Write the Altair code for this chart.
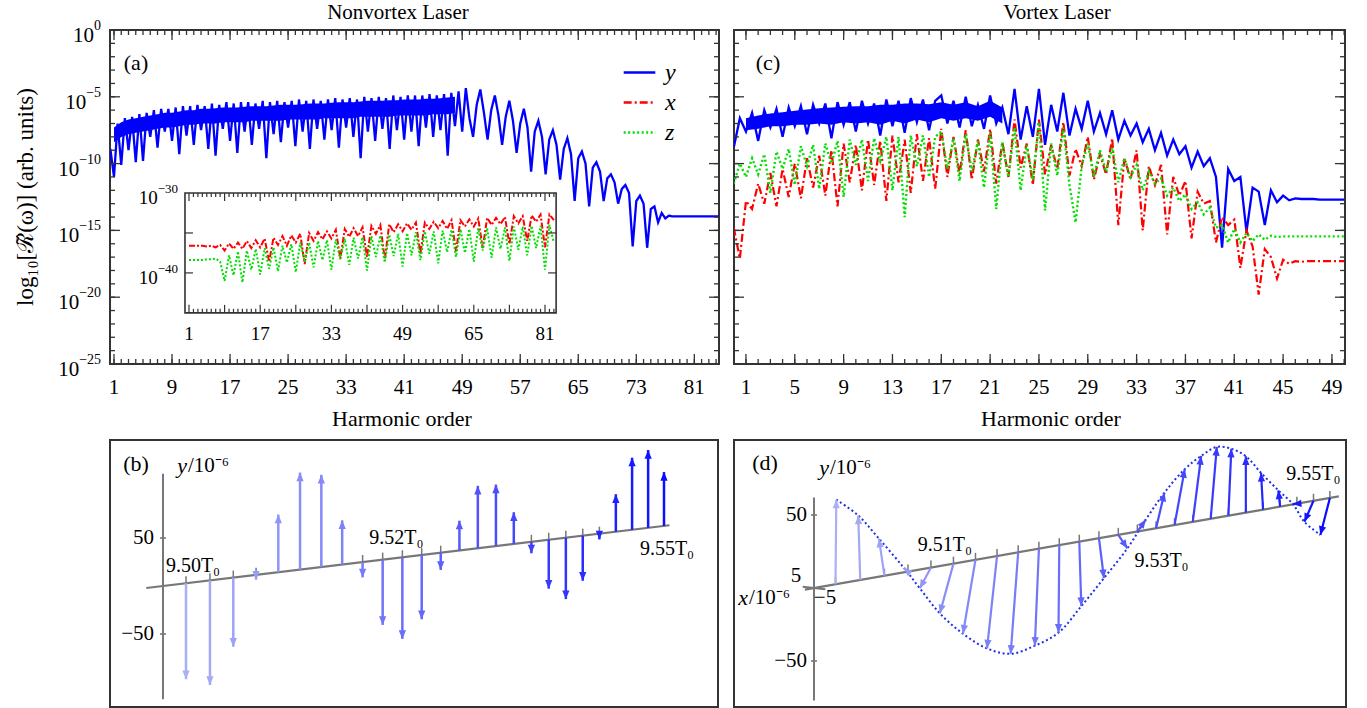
import math
import altair as alt
import numpy as np
import pandas as pd

FONT = "Liberation Serif"
BLUE, RED, GREEN = "#0000ff", "#ff0000", "#00e000"
FRAME = "#333333"
AXGRAY = "#777777"

# ---------------- data: panel (a), nonvortex laser (log10 of spectrum) ----------------
a_h = np.arange(0.5, 84.51, 0.5)
a_y = [-8.9, -11.0, -7.0, -10.1, -6.6, -9.0, -6.5, -9.9, -6.3, -9.8,
       -6.2, -8.0, -6.0, -8.8, -5.9, -7.6, -5.9, -8.3, -5.8, -9.3,
       -5.7, -7.9, -5.7, -8.6, -5.6, -7.5, -5.7, -8.9, -5.5, -9.4,
       -5.6, -7.4, -5.4, -8.3, -5.5, -9.2, -5.4, -7.6, -5.4, -8.6,
       -5.5, -7.4, -5.3, -9.6, -5.4, -7.8, -5.3, -8.4, -5.4, -7.3,
       -5.3, -8.7, -5.2, -7.6, -5.3, -8.9, -5.2, -7.4, -5.3, -8.2,
       -5.2, -7.5, -5.1, -8.8, -5.2, -7.3, -5.1, -8.0, -5.2, -9.6,
       -5.0, -7.6, -5.1, -8.3, -5.0, -7.4, -5.1, -8.9, -4.9, -7.5,
       -5.0, -8.2, -4.9, -7.6, -4.9, -8.7, -4.9, -7.3, -4.8, -8.0,
       -4.9, -7.5, -4.8, -9.4, -4.7, -7.2, -4.6, -7.6, -4.35, -6.6,
       -8.0, -5.6, -4.45, -6.2, -8.2, -6.0, -4.9, -6.4, -8.6, -6.5,
       -5.3, -6.8, -9.2, -7.0, -5.9, -7.3, -10.6, -7.6, -6.8, -8.0,
       -10.8, -8.2, -7.5, -8.6, -11.2, -8.9, -8.1, -9.3, -12.8, -9.6,
       -9.1, -10.0, -13.2, -10.3, -9.9, -10.6, -12.8, -11.1, -10.8, -11.4,
       -13.0, -11.9, -11.6, -12.2, -16.2, -12.8, -12.4, -13.0, -16.3, -13.4,
       -13.2, -14.4, -13.7, -14.1, -13.9, -13.95, -13.95, -13.95, -13.95, -13.95,
       -13.95, -13.95, -13.95, -13.95, -13.95, -13.95, -13.95, -13.95, -13.95]
# dense (over-plotted) band of the y spectrum, upper / lower edge per harmonic
a_band_h = np.arange(1, 49)
a_band_top = [-7.3, -6.9, -6.7, -6.6, -6.5, -6.4, -6.3, -6.2, -6.2, -6.1,
              -6.0, -6.0, -5.9, -5.9, -5.85, -5.8, -5.8, -5.8, -5.75, -5.7,
              -5.7, -5.7, -5.65, -5.6, -5.6, -5.6, -5.55, -5.5, -5.5, -5.5,
              -5.45, -5.4, -5.4, -5.4, -5.35, -5.3, -5.3, -5.3, -5.25, -5.25,
              -5.2, -5.2, -5.2, -5.15, -5.15, -5.1, -5.05, -5.0]
a_band_bot = [-8.4, -8.0, -7.8, -7.7, -7.6, -7.5, -7.4, -7.3, -7.3, -7.2,
              -7.1, -7.1, -7.0, -7.0, -7.0, -6.9, -6.9, -6.9, -6.9, -6.8,
              -6.8, -6.8, -6.8, -6.8, -6.7, -6.7, -6.7, -6.7, -6.7, -6.6,
              -6.6, -6.6, -6.6, -6.6, -6.5, -6.5, -6.5, -6.5, -6.5, -6.4,
              -6.4, -6.4, -6.4, -6.4, -6.3, -6.3, -6.3, -6.2]

# inset of (a): x and z components
inset_h = np.arange(1, 84)
inset_x = [-36.6, -36.6, -36.6, -36.6, -36.7, -36.6, -36.8, -36.5, -37.2, -36.3,
           -37.0, -36.2, -37.0, -36.0, -36.9, -35.9, -36.8, -35.7, -38.6, -35.6,
           -36.5, -35.4, -36.6, -35.3, -36.2, -35.1, -38.9, -35.0, -36.0, -34.9,
           -35.8, -34.8, -35.7, -34.6, -38.2, -34.5, -35.5, -34.4, -35.4, -34.3,
           -38.0, -34.1, -35.1, -34.0, -38.3, -33.9, -34.9, -33.9, -34.8, -33.8,
           -34.6, -33.7, -37.6, -33.7, -34.5, -33.6, -34.4, -33.5, -34.5, -33.4,
           -37.3, -33.4, -34.2, -33.3, -34.2, -33.2, -36.9, -33.1, -34.0, -33.1,
           -33.9, -33.0, -36.4, -32.9, -33.8, -32.9, -36.0, -32.8, -33.6, -32.7,
           -36.8, -32.7, -33.4]
inset_z = [-38.4, -38.4, -38.4, -38.4, -38.3, -38.3, -38.2, -38.6, -41.0, -37.8,
           -40.3, -37.3, -41.2, -37.2, -39.6, -37.0, -40.2, -36.9, -39.5, -36.8,
           -39.8, -36.6, -38.7, -36.4, -39.9, -36.2, -38.6, -36.2, -39.3, -36.0,
           -38.4, -35.9, -39.6, -35.8, -38.3, -35.7, -39.0, -35.6, -38.2, -35.5,
           -39.7, -35.4, -38.0, -35.3, -38.7, -35.2, -37.9, -35.1, -39.2, -35.0,
           -37.8, -34.9, -38.4, -34.8, -37.6, -34.8, -38.8, -34.7, -37.4, -34.6,
           -38.0, -34.5, -37.5, -34.5, -38.6, -34.4, -37.2, -34.4, -38.1, -34.3,
           -37.0, -34.3, -38.5, -34.2, -37.1, -34.2, -37.8, -34.1, -36.9, -34.1,
           -39.6, -34.0, -36.2]

# ---------------- data: panel (c), vortex laser ----------------
c_h = np.arange(0.0, 50.01, 0.5)
c_y = [-8.8, -6.6, -7.6, -6.2, -8.3, -6.0, -7.3, -5.9, -8.0, -5.8,
       -7.2, -5.7, -7.8, -5.6, -7.0, -5.5, -8.1, -5.4, -7.1, -5.4,
       -7.6, -5.3, -7.0, -5.5, -7.9, -5.2, -7.2, -5.3, -7.7, -5.1,
       -6.9, -5.2, -7.5, -5.3, -4.9, -7.0, -5.3, -7.3, -5.0, -7.2,
       -5.6, -7.4, -4.9, -7.0, -5.8, -7.8, -4.4, -8.2, -5.7, -8.0,
       -4.4, -8.6, -5.6, -7.6, -4.7, -7.9, -5.9, -7.4, -5.3, -7.6,
       -6.2, -7.8, -6.0, -8.2, -6.8, -7.9, -7.0, -8.4, -7.4, -9.0,
       -7.7, -9.4, -8.2, -9.3, -8.7, -10.3, -9.1, -10.2, -9.6, -11.0,
       -16.3, -10.4, -11.3, -11.0, -15.1, -11.8, -12.1, -14.6, -12.0, -12.9,
       -12.4, -12.75, -12.6, -12.65, -12.65, -12.65, -12.7, -12.7, -12.7, -12.7,
       -12.7]
c_band_h = np.arange(1, 23)
c_band_top = [-6.6, -6.4, -6.25, -6.15, -6.05, -5.95, -5.85, -5.8, -5.75, -5.7,
              -5.7, -5.6, -5.6, -5.5, -5.5, -5.55, -5.4, -5.6, -5.4, -5.7,
              -5.3, -5.8]
c_band_bot = [-7.5, -7.4, -7.2, -7.2, -7.1, -7.1, -7.0, -7.1, -6.9, -7.0,
              -6.9, -7.1, -6.8, -7.0, -6.7, -6.9, -6.6, -6.8, -6.6, -6.8,
              -6.5, -7.0]
c_x = [-14.8, -17.1, -12.8, -13.4, -11.5, -13.0, -10.7, -13.2, -10.4, -12.5,
       -10.0, -12.6, -9.6, -11.8, -9.4, -12.4, -9.0, -13.2, -8.5, -11.4,
       -8.6, -12.0, -8.2, -11.6, -8.3, -12.8, -7.9, -11.4, -8.2, -12.2,
       -7.8, -11.3, -8.1, -11.9, -7.4, -11.0, -8.0, -10.8, -7.5, -11.2,
       -8.2, -10.6, -7.4, -11.5, -8.4, -11.0, -6.7, -10.3, -8.5, -11.6,
       -6.7, -10.8, -8.6, -10.4, -6.9, -10.9, -8.9, -10.2, -8.0, -11.2,
       -9.3, -10.8, -8.1, -14.6, -9.6, -11.2, -9.0, -15.0, -10.2, -11.6,
       -10.1, -15.3, -11.0, -12.4, -11.3, -15.6, -12.1, -13.0, -12.8, -15.9,
       -14.0, -14.6, -14.2, -17.8, -15.0, -16.2, -19.8, -16.4, -17.0, -18.6,
       -17.2, -17.5, -17.3, -17.35, -17.3, -17.3, -17.3, -17.3, -17.3, -17.3,
       -17.3]
c_z = [-11.5, -10.0, -11.0, -9.6, -10.8, -9.3, -12.2, -9.1, -10.4, -8.9,
       -11.6, -8.7, -10.2, -8.6, -11.9, -8.5, -10.0, -8.3, -12.5, -8.2,
       -10.1, -8.2, -11.3, -8.1, -9.8, -8.0, -12.0, -8.0, -14.0, -7.9,
       -10.2, -7.9, -11.0, -8.0, -7.6, -10.4, -8.1, -11.3, -7.8, -10.6,
       -8.3, -11.8, -7.7, -13.4, -8.4, -11.0, -7.3, -12.0, -8.6, -11.2,
       -6.9, -13.5, -8.5, -10.9, -7.3, -11.6, -14.4, -10.2, -8.5, -11.0,
       -9.0, -10.6, -8.8, -11.4, -9.6, -11.0, -10.1, -12.0, -10.6, -11.5,
       -11.1, -12.4, -11.8, -12.8, -12.3, -13.4, -12.9, -13.8, -13.3, -14.8,
       -14.6, -15.9, -14.9, -15.9, -15.2, -15.8, -15.3, -15.7, -15.4, -15.5,
       -15.45, -15.45, -15.45, -15.45, -15.45, -15.45, -15.45, -15.45, -15.45, -15.45,
       -15.45]

series_names = ["y", "x", "z"]
a_xtick_labels = [1, 9, 17, 25, 33, 41, 49, 57, 65, 73, 81]
c_xtick_labels = [1, 5, 9, 13, 17, 21, 25, 29, 33, 37, 41, 45, 49]
log_ticks = [0, -5, -10, -15, -20, -25]
inset_xtick_labels = [1, 17, 33, 49, 65, 81]
inset_xtick_major = [1, 9, 17, 25, 33, 41, 49, 57, 65, 73, 81]
inset_ytick_labels = [-30, -40]
inset_ytick_major = [-35, -40]

# ---------------- data: panels (b) and (d), field vectors vs time (units of 1e-6) ----------------
b_t = [9.500, 9.502, 9.504, 9.506, 9.508, 9.510, 9.512, 9.514, 9.516, 9.518, 9.520, 9.522, 9.524,
       9.526, 9.528, 9.530, 9.532, 9.534, 9.536, 9.538, 9.540, 9.542, 9.544, 9.546, 9.548, 9.550]
b_y = [-100, -109, -72, -5, 60, 101, 96, 46, -16, -68, -85, -67, -18,
       31, 65, 64, 33, -12, -51, -64, -47, -6, 39, 75, 81, 56]
d_t = [9.500, 9.502, 9.504, 9.506, 9.508, 9.510, 9.512, 9.514, 9.516, 9.518, 9.520, 9.522, 9.524,
       9.526, 9.528, 9.530, 9.532, 9.534, 9.536, 9.538, 9.540, 9.542, 9.544, 9.546, 9.548, 9.550]
d_y = [58, 44, 25, 2.3, -15, -35, -51.5, -64, -70, -66.7, -60, -44, -27,
       -8.6, 8.7, 25, 39, 45.7, 49.6, 46, 38.6, 25, 11, -0.5, -15, -26]
d_x = [-0.35, 0.9, 2.4, 1.8, 4.9, 6.0, 5.5, 4.4, 3.3, 1.8, 0.35, -0.9, -2.2,
       -4.0, -3.7, -3.7, -4.5, -3.7, -2.7, -1.3, 0.0, 0.9, 0.75, 1.8, 4.0, 4.2]
b_time_labels = [9.50, 9.52, 9.55]
d_time_labels = [9.51, 9.53, 9.55]

# ---------------- sizes ----------------
WA, HA = 609, 334
WC, HC = 611, 334
WB, HB = 608, 267
WD, HD = 612, 267


def txt_layer(df, enc, **mk):
    base = dict(font=FONT, color="black", baseline="middle", align="center")
    base.update(mk)
    return alt.Chart(df).mark_text(**base).encode(**enc)


def pow10_labels(vals, ysc, right_px, f10, fsup, dy10, dysup):
    """'10' + raised exponent, right aligned at right_px (pixels in the view)."""
    sups = [str(int(v)).replace("-", "−") for v in vals]
    widths = [fsup * (0.5 * sum(c.isdigit() for c in s) + 0.56 * s.count("−")) for s in sups]
    df = pd.DataFrame({"v": vals, "sup": sups, "ten": "10",
                       "px": [right_px - w for w in widths]})
    y = alt.Y("v:Q", scale=ysc, axis=None)
    ten = txt_layer(df, dict(x=alt.X("px:Q", scale=None), y=y, text="ten:N"), align="right", fontSize=f10, dy=dy10)
    sup = txt_layer(df, dict(x=alt.X("px:Q", scale=None), y=y, text="sup:N"), align="left", fontSize=fsup, dy=dysup)
    return [ten, sup]


def frame_ticks(x_minor, x_major, y_minor, y_major, xsc, ysc, W, H, minor=5, major=10):
    layers = []
    for vals, L in ((x_minor, minor), (x_major, major)):
        base = alt.Chart(pd.DataFrame({"h": vals})).mark_rule(color=FRAME, strokeWidth=1.3)
        xe = alt.X("h:Q", scale=xsc, axis=None)
        layers.append(base.encode(x=xe, y=alt.value(H), y2=alt.value(H - L)))
        layers.append(base.encode(x=xe, y=alt.value(0), y2=alt.value(L)))
    for vals, L in ((y_minor, minor), (y_major, major)):
        base = alt.Chart(pd.DataFrame({"v": vals})).mark_rule(color=FRAME, strokeWidth=1.3)
        ye = alt.Y("v:Q", scale=ysc, axis=None)
        layers.append(base.encode(y=ye, x=alt.value(0), x2=alt.value(L)))
        layers.append(base.encode(y=ye, x=alt.value(W), x2=alt.value(W - L)))
    return layers


def x_labels(vals, xsc, H, title_x):
    df = pd.DataFrame({"h": vals, "t": [str(v) for v in vals]})
    lab = txt_layer(df, dict(x=alt.X("h:Q", scale=xsc, axis=None), y=alt.value(H + 24), text="t:N"), fontSize=21)
    ttl = txt_layer(pd.DataFrame({"t": ["Harmonic order"]}),
                    dict(x=alt.value(title_x), y=alt.value(H + 55), text="t:N"), fontSize=22)
    return [lab, ttl]


def text_px(txt, px, py, align="center", italic=False, size=21, angle=0):
    return txt_layer(pd.DataFrame({"s": [txt]}), dict(text="s:N", x=alt.value(px), y=alt.value(py)),
                     fontSize=size, align=align, fontStyle="italic" if italic else "normal", angle=angle)


# ---------------- panel (a) ----------------
sc_ax = alt.Scale(domain=[0.45, 84.4], nice=False, zero=False)
sc_ay = alt.Scale(domain=[-25, 0], nice=False, zero=False)

leg = alt.Legend(title=None, orient="none", legendX=512, legendY=25, symbolType="stroke",
                 symbolSize=1000, symbolStrokeWidth=2.6, labelFont=FONT, labelFontSize=24,
                 labelFontStyle="italic", labelOffset=8, rowPadding=0, padding=0)

df_a = pd.DataFrame({"h": a_h, "v": a_y, "s": "y"})
band_a = alt.Chart(pd.DataFrame({"h": a_band_h, "top": a_band_top, "bot": a_band_bot})).mark_area(
    color=BLUE, opacity=1).encode(x=alt.X("h:Q", scale=sc_ax, axis=None),
                                  y=alt.Y("top:Q", scale=sc_ay, axis=None), y2="bot:Q")
line_a = alt.Chart(df_a).mark_line(strokeWidth=2.3, clip=True).encode(
    x=alt.X("h:Q", scale=sc_ax, axis=None),
    y=alt.Y("v:Q", scale=sc_ay, axis=None),
    color=alt.Color("s:N", scale=alt.Scale(domain=series_names, range=[BLUE, RED, GREEN]), legend=leg),
    strokeDash=alt.StrokeDash("s:N", scale=alt.Scale(domain=series_names,
                                                     range=[[1, 0], [8, 3, 2, 3], [2, 2.5]]), legend=leg),
)
main_a = alt.layer(
    band_a, line_a,
    *frame_ticks(list(range(1, 85)), a_xtick_labels, list(range(0, -26, -1)), log_ticks, sc_ax, sc_ay, WA, HA),
    *x_labels(a_xtick_labels, sc_ax, HA, 292),
    *pow10_labels(log_ticks, sc_ay, -9, 21, 14, 6, -4),
    text_px("log₁₀[ℛ̃(ω)] (arb. units)", -84, 167, size=23, angle=270),
    text_px("Nonvortex Laser", 288, -17, size=21),
    text_px("(a)", 26, 33, size=22),
)

# inset
IN_H0, IN_H1, IN_V0, IN_V1 = 0.1, 83.5, -45, -30
xi_dom = [-16.75, 120.1]
yi_dom = [-51.4, -9.6]
sc_ix = alt.Scale(domain=xi_dom, nice=False, zero=False)
sc_iy = alt.Scale(domain=yi_dom, nice=False, zero=False)
kxi = WA / (xi_dom[1] - xi_dom[0])
kyi = HA / (yi_dom[1] - yi_dom[0])

inset_frame = alt.Chart(pd.DataFrame({"h0": [IN_H0], "h1": [IN_H1], "v0": [IN_V0], "v1": [IN_V1]})).mark_rect(
    fill="white", stroke=FRAME, strokeWidth=1.6
).encode(x=alt.X("h0:Q", scale=sc_ix, axis=None), x2="h1:Q", y=alt.Y("v0:Q", scale=sc_iy, axis=None), y2="v1:Q")

df_in = pd.DataFrame({"h": inset_h, "x": inset_x, "z": inset_z})
inset_red = alt.Chart(df_in).mark_line(color=RED, strokeWidth=2.0, strokeDash=[6, 2, 2, 2], clip=True).encode(
    x=alt.X("h:Q", scale=sc_ix, axis=None), y=alt.Y("x:Q", scale=sc_iy, axis=None))
inset_green = alt.Chart(df_in).mark_line(color=GREEN, strokeWidth=2.0, strokeDash=[2, 2], clip=True).encode(
    x=alt.X("h:Q", scale=sc_ix, axis=None), y=alt.Y("z:Q", scale=sc_iy, axis=None))


def inset_ticks():
    rows = []
    for hv in range(1, 84):
        L = (8 if hv in inset_xtick_major else 4) / kyi
        rows.append({"h0": hv, "h1": hv, "v0": IN_V0, "v1": IN_V0 + L})
        rows.append({"h0": hv, "h1": hv, "v0": IN_V1, "v1": IN_V1 - L})
    for vv in inset_ytick_major:
        L = 8 / kxi
        rows.append({"h0": IN_H0, "h1": IN_H0 + L, "v0": vv, "v1": vv})
        rows.append({"h0": IN_H1, "h1": IN_H1 - L, "v0": vv, "v1": vv})
    return alt.Chart(pd.DataFrame(rows)).mark_rule(color=FRAME, strokeWidth=1.2).encode(
        x=alt.X("h0:Q", scale=sc_ix, axis=None), x2="h1:Q",
        y=alt.Y("v0:Q", scale=sc_iy, axis=None), y2="v1:Q")


inset_xlab = txt_layer(pd.DataFrame({"h": inset_xtick_labels, "v": IN_V0,
                                     "t": [str(v) for v in inset_xtick_labels]}),
                       dict(x=alt.X("h:Q", scale=sc_ix, axis=None), y=alt.Y("v:Q", scale=sc_iy, axis=None),
                            text="t:N"), fontSize=19, dy=21)
inset_left_px = (IN_H0 - xi_dom[0]) * kxi
inset_a = alt.layer(inset_frame, inset_red, inset_green, inset_ticks(), inset_xlab,
                    *pow10_labels(inset_ytick_labels, sc_iy, inset_left_px - 7, 19, 13, 5, -4))

chart_a = alt.layer(main_a, inset_a).resolve_scale(x="independent", y="independent").properties(
    width=WA, height=HA)

# ---------------- panel (c) ----------------
sc_cx = alt.Scale(domain=[0.02, 50.07], nice=False, zero=False)
df_c = pd.DataFrame({"h": c_h, "y": c_y, "x": c_x, "z": c_z})
band_c = alt.Chart(pd.DataFrame({"h": c_band_h, "top": c_band_top, "bot": c_band_bot})).mark_area(
    color=BLUE, opacity=1).encode(x=alt.X("h:Q", scale=sc_cx, axis=None),
                                  y=alt.Y("top:Q", scale=sc_ay, axis=None), y2="bot:Q")
c_blue = alt.Chart(df_c).mark_line(color=BLUE, strokeWidth=2.3, clip=True).encode(
    x=alt.X("h:Q", scale=sc_cx, axis=None), y=alt.Y("y:Q", scale=sc_ay, axis=None))
c_red = alt.Chart(df_c).mark_line(color=RED, strokeWidth=2.2, strokeDash=[8, 3, 2, 3], clip=True).encode(
    x=alt.X("h:Q", scale=sc_cx, axis=None), y=alt.Y("x:Q", scale=sc_ay, axis=None))
c_green = alt.Chart(df_c).mark_line(color=GREEN, strokeWidth=2.4, strokeDash=[2, 2.5], clip=True).encode(
    x=alt.X("h:Q", scale=sc_cx, axis=None), y=alt.Y("z:Q", scale=sc_ay, axis=None))
chart_c = alt.layer(
    band_c, c_blue, c_red, c_green,
    *frame_ticks(list(range(1, 51)), c_xtick_labels, list(range(0, -26, -1)), log_ticks, sc_cx, sc_ay, WC, HC),
    *x_labels(c_xtick_labels, sc_cx, HC, 317),
    text_px("Vortex Laser", 323, -17, size=21),
    text_px("(c)", 34, 33, size=22),
).properties(width=WC, height=HC)

# ---------------- panels (b) and (d): oblique 3-D projection ----------------
T_REF = 9.4635


def proj_h(t, t_first, t_last, H0, L):
    s = np.sqrt(np.asarray(t, dtype=float) - T_REF)
    s0 = math.sqrt(t_first - T_REF)
    s1 = math.sqrt(t_last - T_REF)
    return H0 + L * (s - s0) / (s1 - s0)


def arrow_frame(times, ycomp, xcomp, geo):
    t = np.asarray(times, dtype=float)
    hb = proj_h(t, times[0], times[-1], geo["H0"], geo["L"])
    vb = geo["slope"] * hb
    xc = np.asarray(xcomp, dtype=float)
    yc = np.asarray(ycomp, dtype=float)
    ht = hb - geo["kx"] * xc
    vt = vb + geo["ky"] * yc + geo["kxv"] * xc
    ang = (np.degrees(np.arctan2(ht - hb, vt - vb)) + 360.0) % 360.0
    return pd.DataFrame({"t": t, "i": np.arange(len(t)), "hb": hb, "vb": vb, "ht": ht, "vt": vt,
                         "vtick": vb + 7, "ang": ang})


ARROW_HEAD = "M0,0L0.42,1L-0.42,1Z"


def vector_panel(times, ycomp, xcomp, geo, time_labels, label_offsets, extra):
    xs = alt.Scale(domain=geo["xdom"], nice=False, zero=False)
    ys = alt.Scale(domain=geo["ydom"], nice=False, zero=False)
    df = arrow_frame(times, ycomp, xcomp, geo)
    X = lambda f: alt.X(f, scale=xs, axis=None)
    Y = lambda f: alt.Y(f, scale=ys, axis=None)
    col = alt.Color("t:Q", scale=alt.Scale(domain=[times[0], times[-1]], range=["#aab0f4", "#0c0cff"],
                                           interpolate="rgb"), legend=None)
    layers = []
    va = geo["yaxis"]
    layers.append(alt.Chart(pd.DataFrame({"h": [0.0], "v0": [va[0] * geo["ky"]], "v1": [va[1] * geo["ky"]]}))
                  .mark_rule(color=AXGRAY, strokeWidth=2).encode(x=X("h:Q"), y=Y("v0:Q"), y2="v1:Q"))
    layers.append(alt.Chart(pd.DataFrame({"h0": [-3.0, -3.0], "h1": [3.0, 3.0],
                                          "v": [50 * geo["ky"], -50 * geo["ky"]]}))
                  .mark_rule(color=AXGRAY, strokeWidth=1.6).encode(x=X("h0:Q"), x2="h1:Q", y=Y("v:Q")))
    te = geo["taxis"]
    hte = proj_h(te, times[0], times[-1], geo["H0"], geo["L"])
    layers.append(alt.Chart(pd.DataFrame({"h0": [hte[0]], "h1": [hte[1]],
                                          "v0": [geo["slope"] * hte[0]], "v1": [geo["slope"] * hte[1]]}))
                  .mark_rule(color=AXGRAY, strokeWidth=2.2).encode(x=X("h0:Q"), x2="h1:Q", y=Y("v0:Q"), y2="v1:Q"))
    layers.append(alt.Chart(df).mark_rule(color=AXGRAY, strokeWidth=1.5).encode(
        x=X("hb:Q"), y=Y("vb:Q"), y2="vtick:Q"))
    layers.extend(extra(xs, ys, df))
    layers.append(alt.Chart(df).mark_rule(strokeWidth=geo["sw"]).encode(
        x=X("hb:Q"), x2="ht:Q", y=Y("vb:Q"), y2="vt:Q", color=col))
    layers.append(alt.Chart(df).mark_point(shape=ARROW_HEAD, filled=True, size=300, opacity=1, strokeWidth=0).encode(
        x=X("ht:Q"), y=Y("vt:Q"), angle=alt.Angle("ang:Q", scale=None), color=col))
    layers.append(txt_layer(pd.DataFrame({"h": [0.0, 0.0], "v": [50 * geo["ky"], -50 * geo["ky"]],
                                          "t": ["50", "−50"]}),
                            dict(x=X("h:Q"), y=Y("v:Q"), text="t:N"), fontSize=21, align="right", dx=geo["ylab_dx"]))
    tl = np.asarray(time_labels, dtype=float)
    htl = proj_h(tl, times[0], times[-1], geo["H0"], geo["L"])
    offs = np.asarray(label_offsets, dtype=float)
    layers.append(txt_layer(pd.DataFrame({"h": htl + offs[:, 0], "v": geo["slope"] * htl + offs[:, 1],
                                          "t": [f"{v:.2f}T₀" for v in tl]}),
                            dict(x=X("h:Q"), y=Y("v:Q"), text="t:N"), fontSize=20))
    return layers


geo_b = dict(H0=23, L=478, slope=0.12, ky=0.96, kx=0.0, kxv=0.0, xdom=[-53, 555], ydom=[-121, 146],
             yaxis=[-118, 117], taxis=[9.4968, 9.5507], sw=2.5, ylab_dx=-9)
layers_b = vector_panel(b_t, b_y, [0.0] * len(b_t), geo_b, b_time_labels,
                        [[7, 17], [-6, 19], [3, -23]], lambda xs, ys, df: [])
chart_b = alt.layer(
    *layers_b,
    text_px("(b)", 26, 24, size=22),
    text_px("y", 72, 26, italic=True, size=22),
    text_px("/10⁻⁶", 78, 26, align="left", size=21),
).properties(width=WB, height=HB)

geo_d = dict(H0=21.5, L=494.4, slope=0.1746, ky=1.46, kx=2.27, kxv=0.23, xdom=[-80, 532], ydom=[-119, 148],
             yaxis=[-77, 62], taxis=[9.4976, 9.5511], sw=2.2, ylab_dx=-7)


def extra_d(xs, ys, df):
    X = lambda f: alt.X(f, scale=xs, axis=None)
    Y = lambda f: alt.Y(f, scale=ys, axis=None)
    curve = alt.Chart(df).mark_line(color="#1f2fe8", strokeWidth=2.0, strokeDash=[2, 2.6],
                                    interpolate="catmull-rom").encode(x=X("ht:Q"), y=Y("vt:Q"), order="i:Q")
    xax = alt.Chart(pd.DataFrame({"h0": [-geo_d["kx"] * 5], "h1": [geo_d["kx"] * 5],
                                  "v0": [geo_d["kxv"] * 5], "v1": [-geo_d["kxv"] * 5]})).mark_rule(
        color=AXGRAY, strokeWidth=2).encode(x=X("h0:Q"), x2="h1:Q", y=Y("v0:Q"), y2="v1:Q")
    return [xax, curve]


layers_d = vector_panel(d_t, d_y, d_x, geo_d, d_time_labels,
                        [[-8.5, 19], [5.4, -32.7], [-16.5, 23.6]], extra_d)
chart_d = alt.layer(
    *layers_d,
    text_px("(d)", 31, 23, size=22),
    text_px("y", 90, 28, italic=True, size=22),
    text_px("/10⁻⁶", 96, 28, align="left", size=21),
    text_px("x", 9, 158, italic=True, size=22),
    text_px("/10⁻⁶", 15, 158, align="left", size=21),
    text_px("5", 62, 136, size=21),
    text_px("−5", 91, 158, size=21),
).properties(width=WD, height=HD)

chart = alt.concat(chart_a, chart_c, chart_b, chart_d, columns=2,
                   spacing=alt.RowColnumber(row=8, column=11), align="each").resolve_scale(
    color="independent", strokeDash="independent"
).properties(padding={"left": 14, "top": 1, "right": 5, "bottom": 0}).configure_view(
    stroke=FRAME, strokeWidth=2
)

chart.save("out.html", embed_options={"renderer": "svg", "actions": False})
